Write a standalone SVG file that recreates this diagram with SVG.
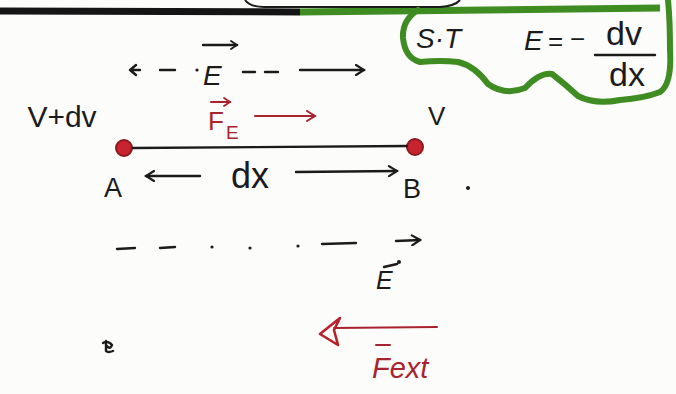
<svg xmlns="http://www.w3.org/2000/svg" width="676" height="394" viewBox="0 0 676 394">
<style>
.ink{fill:#1b1b1b;font-family:"Liberation Sans",Arial,sans-serif}
.red{fill:#a8232e;font-family:"Liberation Sans",Arial,sans-serif}
.ln{stroke:#1b1b1b;stroke-width:2.4;fill:none;stroke-linecap:round;stroke-linejoin:round}
.rl{stroke:#a8232e;stroke-width:2;fill:none;stroke-linecap:round;stroke-linejoin:round}
.gr{stroke:#3f8c22;stroke-width:6;fill:none;stroke-linecap:round;stroke-linejoin:round}
.dot{fill:#c8232e;stroke:#8a1a20;stroke-width:2}
</style>
<defs>
<marker id="ah" markerWidth="12" markerHeight="12" refX="10" refY="6" orient="auto" markerUnits="userSpaceOnUse">
<path d="M2,1 L10,6 L2,11" fill="none" stroke="#1b1b1b" stroke-width="2.2" stroke-linecap="round"/>
</marker>
<marker id="ahr" markerWidth="12" markerHeight="12" refX="10" refY="6" orient="auto" markerUnits="userSpaceOnUse">
<path d="M2,1 L10,6 L2,11" fill="none" stroke="#a8232e" stroke-width="2" stroke-linecap="round"/>
</marker>
<marker id="ahs" markerWidth="10" markerHeight="10" refX="8" refY="5" orient="auto" markerUnits="userSpaceOnUse">
<path d="M2,1 L8,5 L2,9" fill="none" stroke="#1b1b1b" stroke-width="1.8" stroke-linecap="round"/>
</marker>
<marker id="ahrs" markerWidth="10" markerHeight="10" refX="8" refY="5" orient="auto" markerUnits="userSpaceOnUse">
<path d="M2,1 L8,5 L2,9" fill="none" stroke="#a8232e" stroke-width="1.8" stroke-linecap="round"/>
</marker>
</defs>
<rect width="676" height="394" fill="#fcfcfb"/>
<!-- top bar -->
<path d="M0,11 L300,12" stroke="#151515" stroke-width="7"/>
<path d="M300,12 L660,8" stroke="#3f8c22" stroke-width="7"/>
<path d="M245,0 Q250,7 264,7 L440,7 Q455,6 460,0" fill="none" stroke="#1b1b1b" stroke-width="2"/>
<!-- green formula box -->
<g id="st-box">
<path class="gr" d="M418,10 Q402,20 403,38 Q405,58 420,62 Q440,60 458,62 Q475,66 488,84 Q505,96 525,88 Q540,72 552,74 Q565,84 578,96 Q595,105 620,100 Q645,98 660,92 Q672,84 670,50 Q670,20 668,0"/>
<text class="ink" x="416" y="48" font-size="28" font-style="italic">S·T</text>
<text class="ink" x="524" y="50" font-size="28" font-style="italic">E</text>
<text class="ink" x="548" y="50" font-size="26">=</text>
<text class="ink" x="570" y="48" font-size="26">−</text>
<text class="ink" x="624" y="45" font-size="34" text-anchor="middle">dv</text>
<path class="ln" d="M595,55 L655,55"/>
<text class="ink" x="627" y="86" font-size="34" text-anchor="middle">dx</text>
</g>
<!-- labels -->
<g id="label-field-top">
<text class="ink" x="203" y="85" font-size="28" font-style="italic">E</text>
<path d="M203,45 L237,45" class="ln" stroke-width="2" marker-end="url(#ahs)"/>
<circle cx="197" cy="70" r="1.6" fill="#1b1b1b"/>
</g>
<text class="ink" x="62" y="127" font-size="30" text-anchor="middle">V+dv</text>
<text class="ink" x="428" y="125" font-size="26">V</text>
<g id="label-fe">
<text class="red" x="208" y="130" font-size="26">F</text>
<text class="red" x="226" y="139" font-size="19">E</text>
<path class="rl" d="M211,102 L230,102" stroke-width="1.6" marker-end="url(#ahrs)"/>
</g>
<text class="ink" x="104" y="197" font-size="27">A</text>
<text class="ink" x="250" y="188" font-size="36" text-anchor="middle">dx</text>
<g id="node-B-label"><text class="ink" x="403" y="198" font-size="27">B</text><circle cx="468" cy="188" r="2" fill="#1b1b1b"/></g>
<g id="label-field-bottom">
<text class="ink" x="376" y="289" font-size="25" font-style="italic">E</text>
<circle cx="399" cy="262" r="2" fill="#1b1b1b"/>
<path class="ln" stroke-width="1.6" d="M384,267 L397,264"/>
</g>
<g id="label-fext">
<text class="red" x="372" y="378" font-size="29" font-style="italic">Fext</text>
<path class="rl" d="M376,345 L390,345"/>
</g>
<path class="ln" stroke-width="2.2" d="M103,343 Q108,340 112,345 Q110,350 107,346 M106,341 L106,351 Q108,353 113,351"/>
<!-- nodes -->
<g id="node-A"><circle class="dot" cx="124" cy="148" r="8"/></g>
<g id="node-B"><circle class="dot" cx="415" cy="147" r="8"/></g>
<!-- connectors -->
<g id="connectors">
<path class="ln" d="M133,148 L407,146"/>
<path class="ln" d="M140,70 L130,70 M130,70 L136,65 M130,70 L136,75"/>
<path class="ln" d="M160,70 L175,70 M243,72 L255,72 M265,72 L278,72"/>
<path class="ln" d="M300,70 L364,70" marker-end="url(#ah)"/>
<path class="rl" stroke-width="2.2" d="M255,116 L315,116" marker-end="url(#ahr)"/>
<path class="ln" d="M200,176 L146,176" marker-end="url(#ah)"/>
<path class="ln" d="M296,172 L397,171" marker-end="url(#ah)"/>
<path class="ln" d="M117,249 L135,248 M160,248 L175,247 M322,244 L356,243"/>
<circle cx="212" cy="247" r="1.6" fill="#1b1b1b"/>
<circle cx="250" cy="248" r="1.6" fill="#1b1b1b"/>
<circle cx="298" cy="246" r="1.6" fill="#1b1b1b"/>
<path class="ln" d="M396,241 L420,240" marker-end="url(#ah)"/>
<path class="rl" stroke-width="2.4" d="M437,327 L334,328"/>
<path d="M340,318 L320,334 L338,345 L334,330 Z" fill="none" stroke="#b8202c" stroke-width="2.6" stroke-linejoin="round"/>
</g>
</svg>
